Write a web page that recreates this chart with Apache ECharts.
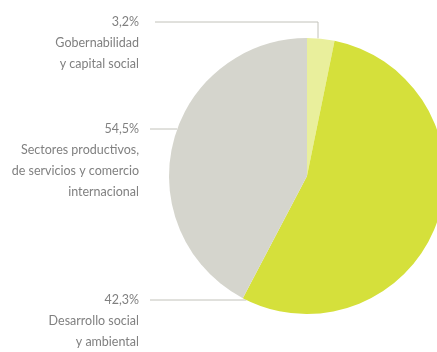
<!DOCTYPE html>
<html>
<head>
<meta charset="utf-8">
<script src="https://cdn.jsdelivr.net/npm/echarts@6/dist/echarts.min.js"></script>
<style>
  html, body { margin: 0; padding: 0; background: #fff; }
  #chart { width: 437px; height: 352px; }
</style>
</head>
<body>
<div id="chart"></div>
<script>
// data
const categories = ['Gobernabilidad\ny capital social', 'Sectores productivos,\nde servicios y comercio\ninternacional', 'Desarrollo social\ny ambiental']
const values = [3.2, 54.5, 42.3]
const percentLabels = ['3,2%', '54,5%', '42,3%']
const colors = ['#e9ef9c', '#d5e03b', '#d5d5cd']

// pie geometry (px)
const cx = 307, cy = 176, r = 138
const labelRight = 139
const lineY = [22, 129, 300]
const lineStart = [155, 150, 150]
const lineH = 21

const chart = echarts.init(document.getElementById('chart'))

function edgeX(y) {
  return cx - Math.sqrt(r * r - (y - cy) * (y - cy))
}

chart.setOption({
  animation: false,
  series: [{
    type: 'pie',
    center: [cx, cy],
    radius: r,
    startAngle: 90,
    clockwise: true,
    avoidLabelOverlap: false,
    emphasis: { disabled: true },
    data: values.map((v, i) => ({ value: v, name: categories[i], itemStyle: { color: colors[i] } })),
    label: {
      show: true,
      formatter: p => percentLabels[p.dataIndex] + '\n' + p.name,
      color: '#808080',
      fontFamily: 'Lato, sans-serif',
      fontWeight: 400,
      fontSize: 12.5,
      lineHeight: lineH,
      align: 'right'
    },
    labelLine: { show: true, lineStyle: { color: '#c2c2ba', width: 1 } },
    labelLayout: p => {
      const i = p.dataIndex
      const y = lineY[i]
      let pts
      if (i === 0) {
        const x = 318
        const yEdge = cy - Math.sqrt(r * r - (x - cx) * (x - cx))
        pts = [[x, yEdge], [x, y], [lineStart[i], y]]
      } else {
        const ex = edgeX(y)
        pts = [[ex, y], [ex, y], [lineStart[i], y]]
      }
      return {
        x: labelRight,
        y: y - lineH / 2,
        align: 'right',
        verticalAlign: 'top',
        labelLinePoints: pts
      }
    }
  }]
})
</script>
</body>
</html>
